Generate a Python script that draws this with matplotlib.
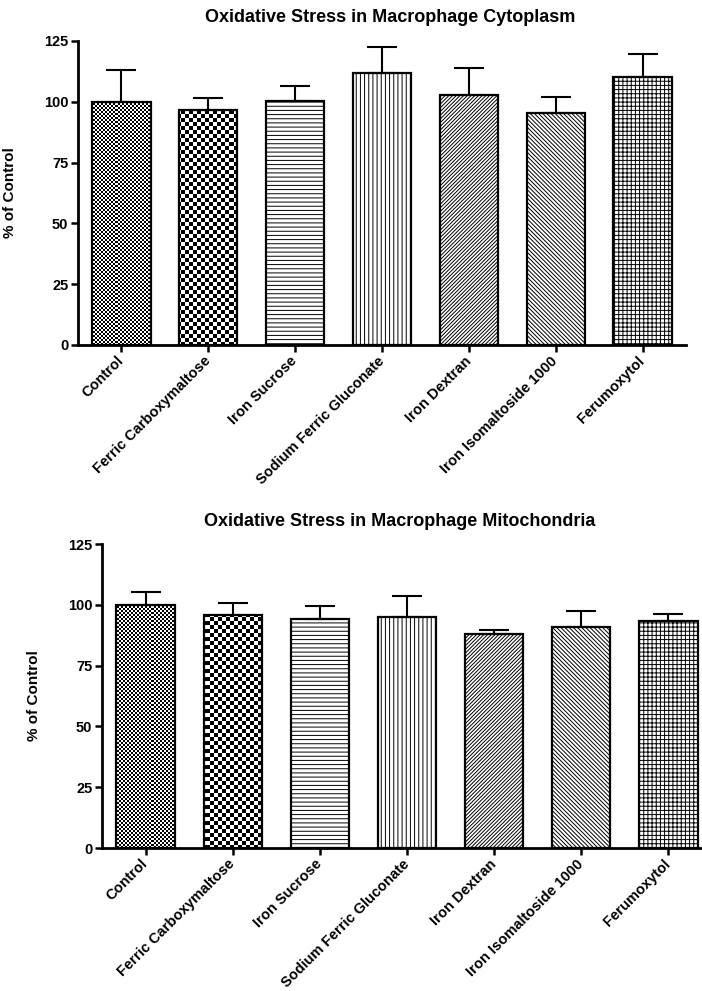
import numpy as np
import matplotlib
matplotlib.use('Agg')
import matplotlib.pyplot as plt

plt.rcParams['font.family'] = ['Liberation Sans', 'DejaVu Sans']
plt.rcParams['font.weight'] = 'bold'
plt.rcParams['hatch.linewidth'] = 0.7

cats = ['Control', 'Ferric Carboxymaltose', 'Iron Sucrose', 'Sodium Ferric Gluconate',
        'Iron Dextran', 'Iron Isomaltoside 1000', 'Ferumoxytol']

cyto_mean = [100.0, 96.5, 100.5, 112.0, 103.0, 95.5, 110.0]
cyto_err = [12.9, 5.2, 5.8, 10.6, 10.7, 6.3, 9.6]

mito_mean = [100.0, 95.8, 94.2, 95.0, 88.0, 91.0, 93.5]
mito_err = [5.4, 5.1, 5.3, 8.6, 1.8, 6.5, 2.8]

yticks = [0, 25, 50, 75, 100, 125]

# fill style per group: ('checker', cell px) or ('hatch', pattern)
fills = [('checker', 2), ('checker', 4), ('hatch', '----'), ('hatch', '||||'),
         ('hatch', '/' * 9), ('hatch', '\\' * 8), ('hatch', '++++')]


def checker_fill(ax, bar, cell):
    x0, x1 = ax.get_xlim()
    y0, y1 = ax.get_ylim()
    wpx, hpx = ax.bbox.width, ax.bbox.height
    nx = int(round(wpx / cell)) + 1
    ny = int(round(hpx / cell)) + 1
    # shift by a quarter cell so cell edges never sit on pixel boundaries
    dx = (x1 - x0) / wpx * cell * 0.25
    dy = (y1 - y0) / hpx * cell * 0.25
    ex1 = x0 + (x1 - x0) / wpx * cell * nx
    ey1 = y0 + (y1 - y0) / hpx * cell * ny
    board = np.indices((ny, nx)).sum(axis=0) % 2
    im = ax.imshow(board, extent=(x0 - dx, ex1 - dx, y0 - dy, ey1 - dy), cmap='gray',
                   interpolation='nearest', aspect='auto', origin='lower', zorder=1.5,
                   vmin=0, vmax=1)
    im.set_clip_path(bar)
    ax.set_xlim(x0, x1)
    ax.set_ylim(y0, y1)


def draw_panel(ax, mean, err, title_txt, title_x, title_y):
    x = np.arange(len(cats))
    ax.set_xlim(-0.5, len(cats) - 0.5)
    ax.set_ylim(0, 125)
    bars = ax.bar(x, mean, width=0.67, color='white', edgecolor='black', linewidth=1.6, zorder=2)
    for bar, (kind, val) in zip(bars, fills):
        if kind == 'checker':
            bar.set_facecolor('none')
            checker_fill(ax, bar, val)
        else:
            bar.set_hatch(val)
    ax.errorbar(x, mean, yerr=[np.zeros(len(err)), err], fmt='none', ecolor='black',
                elinewidth=1.5, capsize=11, capthick=1.5, zorder=3)
    ax.set_yticks(yticks)
    ax.set_xticks(x)
    ax.set_xticklabels(cats, rotation=45, ha='right', va='center', rotation_mode='anchor')
    ax.tick_params(axis='both', direction='out', length=5, width=1.8, labelsize=10.5, pad=2)
    ax.tick_params(axis='x', pad=5)
    for s in ['top', 'right']:
        ax.spines[s].set_visible(False)
    for s in ['left', 'bottom']:
        ax.spines[s].set_linewidth(2)
    ax.set_ylabel('% of Control', fontsize=11, fontweight='bold')
    ax.yaxis.set_label_coords(-0.1, 0.5)
    fig.text(title_x, title_y, title_txt, ha='center', va='center', fontsize=13, fontweight='bold')


W, H = 702, 991
fig = plt.figure(figsize=(W / 100, H / 100), dpi=100)
ax1 = fig.add_axes([78 / W, 646 / H, 608 / W, 304 / H])
ax2 = fig.add_axes([102 / W, 143 / H, 610 / W, 304 / H])

draw_panel(ax1, cyto_mean, cyto_err, 'Oxidative Stress in Macrophage Cytoplasm', 390 / W, 1 - 17 / H)
draw_panel(ax2, mito_mean, mito_err, 'Oxidative Stress in Macrophage Mitochondria', 400 / W, 1 - 522 / H)

fig.savefig('out.png', dpi=100)
